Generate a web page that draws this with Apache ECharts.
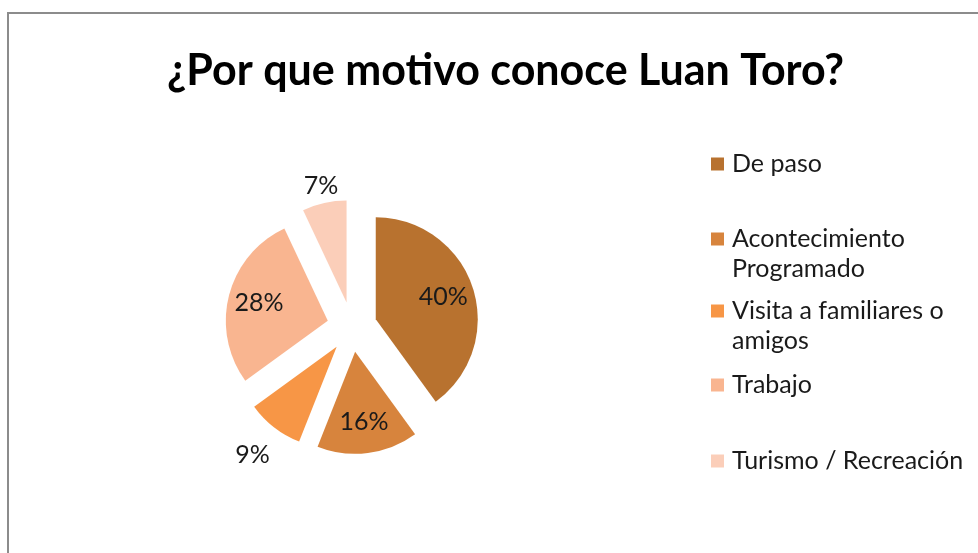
<!DOCTYPE html>
<html>
<head>
<meta charset="utf-8">
<script src="https://cdn.jsdelivr.net/npm/echarts@6/dist/echarts.min.js"></script>
<style>
  html, body { margin: 0; padding: 0; background: #fff; }
  #chart { width: 978px; height: 553px; }
</style>
</head>
<body>
<div id="chart"></div>
<script>
// datos de la encuesta
var motivos = ['De paso', 'Acontecimiento Programado', 'Visita a familiares o amigos', 'Trabajo', 'Turismo / Recreación'];
var porcentajes = [40, 16, 9, 28, 7];
// texto de la leyenda partido en lineas como en el original
var textoLeyenda = ['De paso', 'Acontecimiento\nProgramado', 'Visita a familiares o\namigos', 'Trabajo', 'Turismo / Recreación'];

var colores = ['#B8722F', '#D7843D', '#F79646', '#F9B590', '#FBCEB9'];
var fuente = 'Lato, "Noto Sans", sans-serif';

// centro del icono de cada leyenda (px) y si la etiqueta va fuera
var leyendaY = [164, 239, 311, 385, 461];
var etiquetaFuera = [null, null, {len: 35, dist: -17}, null, {len: 18, dist: -18}];

var leyendas = motivos.map(function (m, i) {
  var dosLineas = textoLeyenda[i].indexOf('\n') >= 0;
  return {
    data: [m],
    orient: 'vertical',
    left: 711,
    top: dosLineas ? leyendaY[i] - 45 : leyendaY[i] - 15,
    padding: 0,
    icon: 'rect',
    itemWidth: 13,
    itemHeight: 13,
    selectedMode: false,
    // linea vacia arriba para que el icono quede junto a la primera linea
    formatter: function () { return dosLineas ? ' \n' + textoLeyenda[i] : textoLeyenda[i]; },
    textStyle: {
      fontFamily: fuente,
      fontSize: 25,
      lineHeight: 30,
      color: '#1a1a1a',
      padding: [0, 0, 0, 3]
    }
  };
});

var chart = echarts.init(document.getElementById('chart'));
chart.setOption({
  backgroundColor: '#fff',
  animation: false,
  color: colores,
  title: {
    text: '¿Por que motivo conoce Luan Toro?',
    left: 162,
    top: 45,
    textStyle: { fontFamily: fuente, fontSize: 43, fontWeight: 'bold', color: '#000' }
  },
  graphic: [{
    type: 'rect',
    shape: { x: 8, y: 13, width: 1000, height: 600 },
    style: { fill: 'none', stroke: '#8c8c8c', lineWidth: 2 },
    silent: true
  }],
  legend: leyendas,
  series: [
    {
      type: 'pie',
      center: [352, 327],
      radius: 102,
      startAngle: 90,
      selectedMode: 'multiple',
      selectedOffset: 25,
      silent: true,
      label: { show: false },
      labelLine: { show: false },
      data: motivos.map(function (m, i) {
        return { name: m, value: porcentajes[i], selected: true, itemStyle: { color: colores[i] } };
      })
    },
    {
      // capa solo para las etiquetas de porcentaje
      type: 'pie',
      center: [352, 327],
      radius: [34, 102],
      startAngle: 90,
      selectedMode: 'multiple',
      selectedOffset: 25,
      silent: true,
      avoidLabelOverlap: false,
      itemStyle: { color: 'rgba(0,0,0,0)' },
      label: {
        position: 'inside',
        formatter: '{d}%',
        fontFamily: fuente,
        fontSize: 25,
        color: '#1a1a1a'
      },
      labelLine: { show: false },
      data: motivos.map(function (m, i) {
        var item = { name: m, value: porcentajes[i], selected: true };
        var f = etiquetaFuera[i];
        if (f) {
          item.label = { position: 'outside', distanceToLabelLine: f.dist };
          item.labelLine = { show: false, length: f.len, length2: 0 };
        }
        return item;
      })
    }
  ]
});
</script>
</body>
</html>
